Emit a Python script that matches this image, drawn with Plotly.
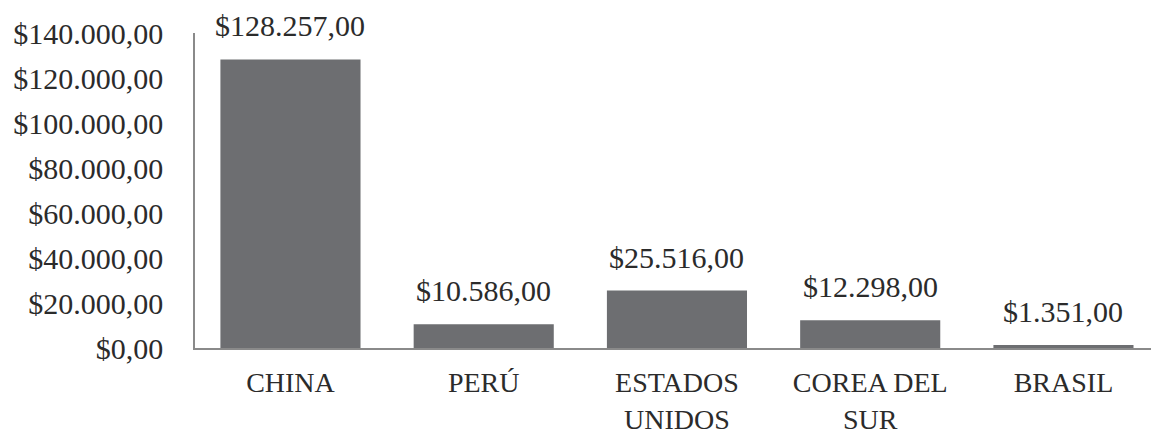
import plotly.graph_objects as go

categories = ["CHINA", "PERÚ", "ESTADOS<br>UNIDOS", "COREA DEL<br>SUR", "BRASIL"]
values = [128257, 10586, 25516, 12298, 1351]
y_ticks = [0, 20000, 40000, 60000, 80000, 100000, 120000, 140000]


def fmt(v):
    s = f"{v:,.2f}"
    s = s.replace(",", "X").replace(".", ",").replace("X", ".")
    return "$" + s


FONT = "Liberation Serif"
TXT = "#2b2b2b"
FS = 30

fig = go.Figure(
    go.Bar(
        x=list(range(len(categories))),
        y=values,
        marker=dict(color="#6d6e71", line=dict(width=0)),
        width=0.725,
        hoverinfo="skip",
    )
)

for i, v in enumerate(values):
    fig.add_annotation(
        x=i, y=v, text=fmt(v), showarrow=False, yanchor="bottom", yshift=15,
        font=dict(family=FONT, size=FS, color=TXT),
    )

fig.update_layout(
    width=1151, height=432,
    margin=dict(l=195, r=0, t=33, b=84, autoexpand=False),
    paper_bgcolor="white", plot_bgcolor="white",
    separators=",.",
    showlegend=False,
    font=dict(family=FONT, size=FS, color=TXT),
)
fig.update_xaxes(
    tickmode="array", tickvals=list(range(len(categories))), ticktext=categories,
    range=[-0.494, 4.453], showline=True, linecolor="#8a8a8a", linewidth=1.5,
    showgrid=False, zeroline=False, ticks="", ticklabelstandoff=9,
    tickfont=dict(family=FONT, size=28, color=TXT), automargin=False,
)
fig.update_yaxes(
    range=[0, 140000], tickvals=y_ticks, tickformat="$,.2f",
    showline=True, linecolor="#8a8a8a", linewidth=1.5,
    showgrid=False, zeroline=False, ticks="", ticklabelstandoff=24,
    tickfont=dict(family=FONT, size=FS, color=TXT), automargin=False,
)

fig.write_html(
    "out.html",
    config={"displayModeBar": False},
    post_script="document.body.style.margin='0';document.body.style.overflow='hidden';",
)
